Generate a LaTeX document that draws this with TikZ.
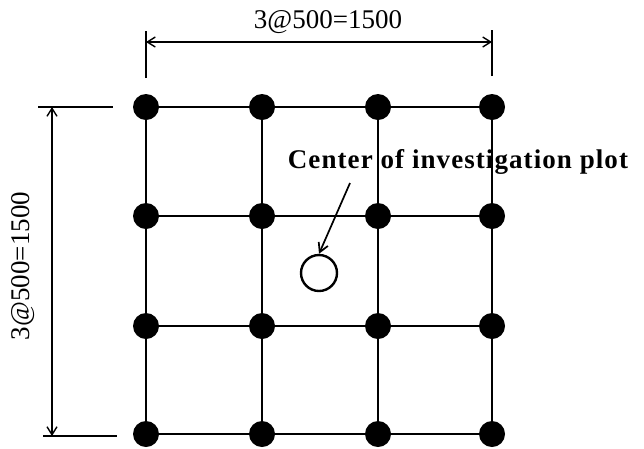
\documentclass[tikz,border=0pt]{standalone}
\usepackage{fontspec}
\setmainfont{Liberation Serif}
\newfontfamily\labelfont[LetterSpace=4]{Liberation Serif}
\usetikzlibrary{arrows.meta,calc}

\begin{document}
\begin{tikzpicture}[
    x=1pt, y=-1pt,
    font=\fontsize{27}{32}\selectfont,
    dot/.style={circle, fill=black, inner sep=0pt, minimum size=26pt},
    member/.style={line width=1.8pt},
    extline/.style={line width=1.4pt},
    dimline/.style={{Straight Barb[length=8pt,width=10pt]}-{Straight Barb[length=8pt,width=10pt]}, line width=1.4pt},
    pointer/.style={-{Straight Barb[length=9pt,width=10pt]}, line width=1.7pt},
    plotmark/.style={circle, draw, line width=2.4pt, inner sep=0pt, minimum size=36pt}
]
\useasboundingbox (0,0) rectangle (644,448);

% sampling points on the grid
\foreach \x [count=\i] in {146,262,378,492}
    \foreach \y [count=\j] in {107,216,326,434}
        \node[dot] (d\i\j) at (\x,\y) {};

% grid members
\foreach \i in {1,...,4}
    \foreach \j/\k in {1/2,2/3,3/4} {
        \draw[member] (d\i\j) -- (d\i\k);
        \draw[member] (d\j\i) -- (d\k\i);
    }

% centre of the plot
\node[plotmark] (plot) at (319,273) {};
\node[font=\fontsize{27}{32}\labelfont\bfseries] (lbl) at (458,162) {Center of investigation plot};
\coordinate (tail) at (350,183);
\draw[pointer] (tail) -- (plot.north);

% top dimension
\draw[extline] ($(d11)+(0,-29)$) -- ($(d11)+(0,-76)$);
\draw[extline] ($(d41)+(0,-31)$) -- ($(d41)+(0,-77)$);
\draw[dimline] ($(d11)+(0,-65)$) -- ($(d41)+(0,-65)$);
\node (dimtop) at (328,22) {3@500=1500};

% left dimension
\draw[extline] ($(d11)+(-108,0)$) -- ($(d11)+(-33,0)$);
\draw[extline] ($(d14)+(-103,2)$) -- ($(d14)+(-29,2)$);
\draw[dimline] ($(d11)+(-94,0)$) -- ($(d14)+(-94,2)$);
\node[rotate=90] (dimleft) at (23,266) {3@500=1500};

\end{tikzpicture}
\end{document}
